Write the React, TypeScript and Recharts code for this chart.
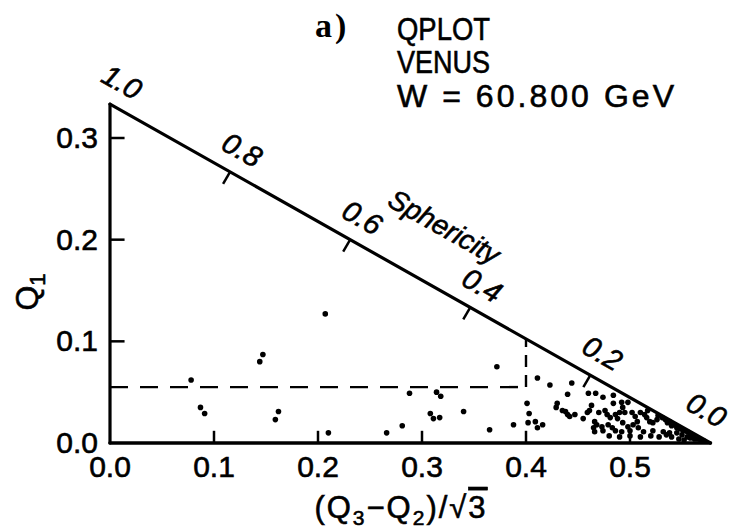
import React from 'react';
import { ScatterChart, Scatter, XAxis, YAxis, ReferenceLine } from 'recharts';

const SQ3 = Math.sqrt(3);
const X_END = 1 / SQ3; // apex of the triangle on the x axis
const Q1_TOP = 1 / 3; // top corner on the Q1 axis

const xTicks = [0, 0.1, 0.2, 0.3, 0.4, 0.5];
const yTicks = [0, 0.1, 0.2, 0.3];
const sphericityTicks = [1.0, 0.8, 0.6, 0.4, 0.2, 0.0];
const sphericityTitleAt = 0.49;

// dashed selection box
const cutX = 0.4;
const cutQ1 = 0.055;

// events as [(Q3-Q2)/sqrt3, Q1]
const sparseEvents = [
  [0.078, 0.062], [0.087, 0.035], [0.091, 0.029], [0.144, 0.08], [0.147, 0.087],
  [0.159, 0.023], [0.162, 0.031], [0.207, 0.127], [0.21, 0.01], [0.266, 0.01],
  [0.281, 0.017], [0.288, 0.049], [0.314, 0.05], [0.318, 0.046], [0.308, 0.029],
  [0.311, 0.024], [0.317, 0.025], [0.34, 0.031], [0.365, 0.013], [0.372, 0.075],
  [0.388, 0.018],
];

const edgeEvents = [
  [0.401, 0.039], [0.403, 0.029], [0.402, 0.02], [0.409, 0.021], [0.411, 0.015],
  [0.416, 0.018], [0.411, 0.064], [0.423, 0.057], [0.444, 0.059], [0.44, 0.048],
];

const clusterEvents = [
  [0.43, 0.039], [0.429, 0.035], [0.435, 0.032], [0.438, 0.031], [0.44, 0.028],
  [0.442, 0.026], [0.447, 0.028], [0.455, 0.024], [0.459, 0.03], [0.461, 0.032],
  [0.463, 0.037], [0.46, 0.049], [0.467, 0.049], [0.466, 0.021], [0.465, 0.015],
  [0.47, 0.03], [0.474, 0.045], [0.484, 0.047], [0.484, 0.039], [0.492, 0.04],
  [0.493, 0.035], [0.498, 0.04], [0.476, 0.032], [0.478, 0.028], [0.481, 0.025],
  [0.486, 0.028], [0.488, 0.024], [0.49, 0.03], [0.495, 0.03], [0.502, 0.03],
  [0.505, 0.026], [0.507, 0.021], [0.51, 0.03], [0.514, 0.028], [0.517, 0.032],
  [0.516, 0.025], [0.519, 0.021], [0.522, 0.02], [0.526, 0.023], [0.527, 0.027],
  [0.531, 0.025], [0.534, 0.023], [0.536, 0.02], [0.538, 0.021], [0.54, 0.017],
  [0.543, 0.018], [0.545, 0.015], [0.548, 0.014], [0.551, 0.012], [0.555, 0.011],
  [0.558, 0.009], [0.561, 0.007], [0.468, 0.018], [0.473, 0.016], [0.479, 0.018],
  [0.483, 0.015], [0.493, 0.02], [0.498, 0.016], [0.503, 0.018], [0.508, 0.015],
  [0.466, 0.011], [0.474, 0.012], [0.486, 0.012], [0.492, 0.011], [0.5, 0.012],
  [0.513, 0.011], [0.522, 0.012], [0.532, 0.011], [0.538, 0.01], [0.565, 0.004],
  [0.568, 0.003], [0.571, 0.002], [0.562, 0.004], [0.555, 0.006], [0.55, 0.008],
  [0.545, 0.01], [0.558, 0.005], [0.552, 0.003], [0.547, 0.004], [0.54, 0.006],
  [0.535, 0.008], [0.528, 0.006], [0.52, 0.007], [0.51, 0.006], [0.5, 0.007],
  [0.49, 0.006], [0.48, 0.007],
];

const INK = '#000';
const SANS = '"Liberation Sans", Arial, sans-serif';
const ANGLE = 29.5; // slope of the sphericity edge on screen
// scanned print is a bit heavier than the plain font
const heavy = { stroke: INK, strokeWidth: 0.6 };

const events = [...sparseEvents, ...edgeEvents, ...clusterEvents].map(([x, y]) => ({ x, y }));
// on the edge Q1 = Q2, so S = 3*Q1
const sphData = sphericityTicks.map((s) => ({ x: (1 - s) / SQ3, y: s / 3, s }));
const sphTitle = [{ x: (1 - sphericityTitleAt) / SQ3, y: sphericityTitleAt / 3 }];

const Dot = (p: any) => <circle cx={p.cx} cy={p.cy} r={2.8} fill={INK} />;

const SphMark = (p: any) => {
  const { cx, cy, payload } = p;
  const apex = payload.s === 0;
  const lx = apex ? cx - 4 : cx + 12;
  const ly = apex ? cy - 33 : cy - 22;
  const inner = payload.s > 0 && payload.s < 1;
  return (
    <g>
      {inner && <line x1={cx} y1={cy} x2={cx - 7} y2={cy + 12} stroke={INK} strokeWidth={2.5} />}
      <text
        x={lx}
        y={ly}
        transform={`rotate(${ANGLE} ${lx} ${ly})`}
        textAnchor="middle"
        dominantBaseline="central"
        fontStyle="italic"
        fontSize={29}
        fontFamily={SANS}
        fill={INK}
        {...heavy}
      >
        {payload.s.toFixed(1)}
      </text>
    </g>
  );
};

const SphTitle = (p: any) => {
  const lx = p.cx + 28;
  const ly = p.cy - 50;
  return (
    <text
      x={lx}
      y={ly}
      transform={`rotate(${ANGLE} ${lx} ${ly})`}
      textAnchor="middle"
      dominantBaseline="central"
      fontStyle="italic"
      fontSize={28}
      fontFamily={SANS}
      fill={INK}
      {...heavy}
    >
      Sphericity
    </text>
  );
};

const XTickLabel = (p: any) => (
  <text x={p.x} y={p.y} dy={34} textAnchor="middle" fontSize={30} fontFamily={SANS} fill={INK} {...heavy}>
    {Number(p.payload.value).toFixed(1)}
  </text>
);

const YTickLabel = (p: any) => (
  <text x={p.x - 12} y={p.y} dy={10} textAnchor="end" fontSize={30} fontFamily={SANS} fill={INK} {...heavy}>
    {Number(p.payload.value).toFixed(1)}
  </text>
);

const XTitle = (p: any) => {
  const vb = p.viewBox || { x: 110, y: 443 };
  return (
    <text x={vb.x + 291} y={vb.y + 75} textAnchor="middle" fontSize={31} fontFamily={SANS} fill={INK} letterSpacing={2} {...heavy}>
      (Q<tspan dy={7} fontSize={21}>3</tspan>
      <tspan dy={-7}>−Q</tspan>
      <tspan dy={7} fontSize={21}>2</tspan>
      <tspan dy={-7}>)/√</tspan>
      <tspan style={{ textDecoration: 'overline' }}>3</tspan>
    </text>
  );
};

const YTitle = () => (
  <text x={38} y={292} transform="rotate(-90 38 292)" textAnchor="middle" fontSize={32} fontFamily={SANS} fill={INK} {...heavy}>
    Q<tspan dy={7} fontSize={22}>1</tspan>
  </text>
);

export default function App() {
  const lineStyle = { stroke: INK, strokeWidth: 3.2, strokeLinecap: 'round' as const };
  return (
    <div style={{ position: 'absolute', left: 0, top: 0, width: 743, height: 531, background: '#fff' }}>
      <ScatterChart width={743} height={531} margin={{ top: 77, right: 9, bottom: 38, left: 50 }}>
        <XAxis
          type="number"
          dataKey="x"
          domain={[0, 0.6]}
          ticks={xTicks}
          interval={0}
          axisLine={false}
          tickLine={false}
          tickSize={0}
          tickMargin={0}
          height={50}
          tick={XTickLabel}
          label={<XTitle />}
        />
        <YAxis
          type="number"
          dataKey="y"
          domain={[0, 0.36]}
          ticks={yTicks}
          interval={0}
          axisLine={false}
          tickLine={false}
          tickSize={0}
          tickMargin={0}
          width={60}
          tick={YTickLabel}
          label={<YTitle />}
        />

        {/* triangle frame */}
        <ReferenceLine segment={[{ x: 0, y: 0 }, { x: X_END, y: 0 }]} {...lineStyle} strokeWidth={3.6} />
        <ReferenceLine segment={[{ x: 0, y: 0 }, { x: 0, y: Q1_TOP }]} {...lineStyle} />
        <ReferenceLine segment={[{ x: 0, y: Q1_TOP }, { x: X_END, y: 0 }]} {...lineStyle} />

        {/* inward tick marks */}
        {xTicks.slice(1).map((t) => (
          <ReferenceLine key={'xt' + t} segment={[{ x: t, y: 0 }, { x: t, y: 0.012 }]} stroke={INK} strokeWidth={2.5} />
        ))}
        {yTicks.slice(1).map((t) => (
          <ReferenceLine key={'yt' + t} segment={[{ x: 0, y: t }, { x: 0.014, y: t }]} stroke={INK} strokeWidth={2.5} />
        ))}

        {/* dashed cut */}
        <ReferenceLine segment={[{ x: 0, y: cutQ1 }, { x: cutX, y: cutQ1 }]} stroke={INK} strokeWidth={2.4} strokeDasharray="18 12" />
        <ReferenceLine
          segment={[{ x: cutX, y: cutQ1 }, { x: cutX, y: Q1_TOP - cutX / SQ3 }]}
          stroke={INK}
          strokeWidth={2.4}
          strokeDasharray="12 8"
        />

        <Scatter data={events} shape={Dot} isAnimationActive={false} />
        <Scatter data={sphData} shape={SphMark} isAnimationActive={false} />
        <Scatter data={sphTitle} shape={SphTitle} isAnimationActive={false} />
      </ScatterChart>

      <svg width={743} height={531} style={{ position: 'absolute', left: 0, top: 0, pointerEvents: 'none' }}>
        <text x={315} y={37} fontFamily='"Liberation Serif", serif' fontWeight="bold" fontSize={34} letterSpacing={3} fill={INK}>
          a)
        </text>
        <text x={397} y={40} fontFamily={SANS} fontSize={32} textLength={93} lengthAdjust="spacingAndGlyphs" fill={INK} {...heavy}>
          QPLOT
        </text>
        <text x={397} y={73} fontFamily={SANS} fontSize={32} textLength={93} lengthAdjust="spacingAndGlyphs" fill={INK} {...heavy}>
          VENUS
        </text>
        <text x={397} y={107} fontFamily={SANS} fontSize={32} textLength={277} lengthAdjust="spacing" fill={INK} {...heavy}>
          W = 60.800 GeV
        </text>
      </svg>
    </div>
  );
}
